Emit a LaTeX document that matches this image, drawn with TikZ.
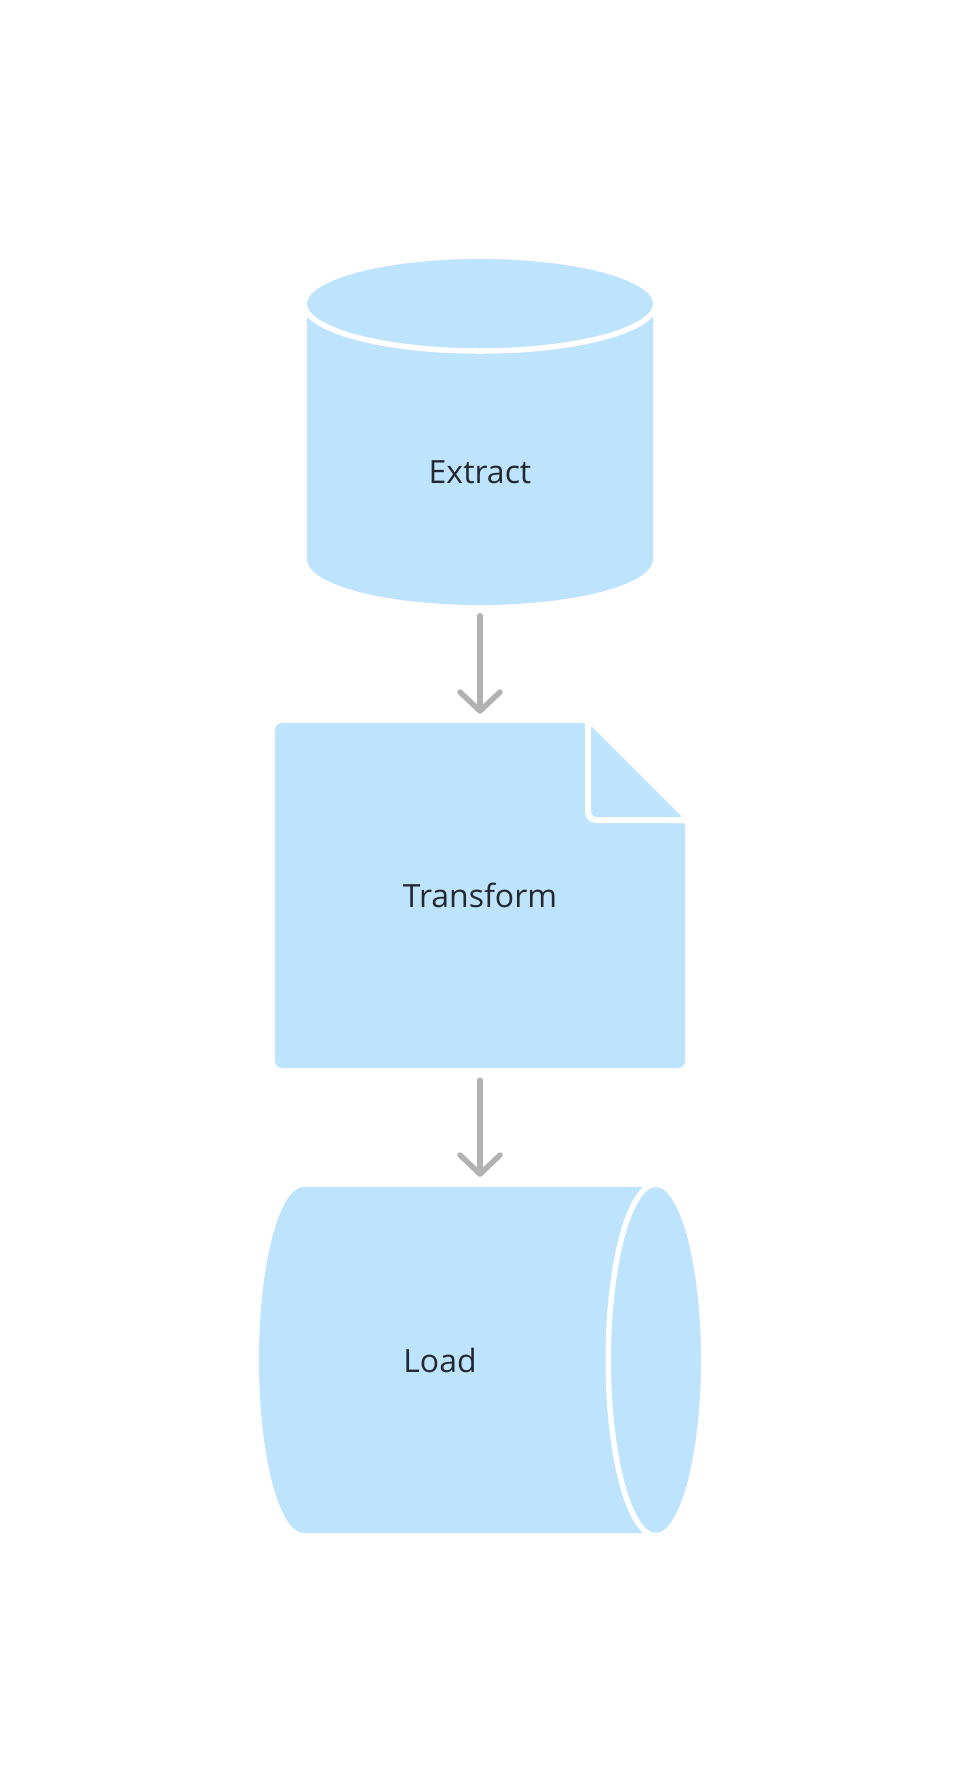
\documentclass[tikz,border=0pt]{standalone}
\usepackage{fontspec}
\setmainfont{Open Sans}
\usetikzlibrary{arrows.meta}
\definecolor{etl_lightblue}{HTML}{BEE3FD}
\colorlet{etlblue}{etl_lightblue}
\definecolor{etl_text}{HTML}{24292F}
\definecolor{etl_gray}{HTML}{B2B2B2}
\tikzset{
  stage/.style={inner sep=0pt,text=etl_text,font=\fontsize{32}{38}\selectfont},
  body/.style={fill=etlblue},
  rim/.style={fill=etlblue,draw=white,line width=5.5pt},
  fold/.style={draw=white,line width=6pt,rounded corners=8pt},
  flow/.style={draw=etl_gray,line width=5.5pt,line cap=round,-{Straight Barb[length=19pt,width=40pt,round]}},
}
\pgfdeclarelayer{back}
\pgfsetlayers{back,main}

\begin{document}
\begin{tikzpicture}[x=1pt,y=-1pt]
  \useasboundingbox (0,0) rectangle (960,1792);
  \node[stage,minimum width=346pt,minimum height=265pt] (extract) at (480,472.5) {Extract};
  \node[stage,minimum width=410pt,minimum height=345pt] (transform) at (480,895.5) {Transform};
  \node[stage,minimum width=362pt,minimum height=346pt] (load) at (440,1360) {Load};
  \begin{pgfonlayer}{back}
    % extract: standing cylinder
    \fill[body] (307,305) -- (307,559) arc[start angle=180,end angle=0,x radius=173,y radius=46] -- (653,305) -- cycle;
    \filldraw[rim] (480,303.6) ellipse[x radius=175.75,y radius=47.4];
    % transform: sheet with folded corner
    \fill[body,rounded corners=7pt] (588,723) -- (275,723) -- (275,1068) -- (685,1068) -- (685,820) -- cycle;
    \draw[fold] (588,723) -- (588,820) -- (685,820);
    % load: lying cylinder
    \fill[body] (304,1187) -- (656,1187) -- (656,1533) -- (304,1533) arc[start angle=90,end angle=270,x radius=45,y radius=173] -- cycle;
    \filldraw[rim] (656,1360) ellipse[x radius=47.75,y radius=175.75];
  \end{pgfonlayer}
  \draw[flow,shorten <=10.5pt,shorten >=9pt] (extract) -- (transform);
  \draw[flow,shorten <=12pt,shorten >=10pt] (transform.south) -- (transform.south |- load.north);
\end{tikzpicture}
\end{document}
